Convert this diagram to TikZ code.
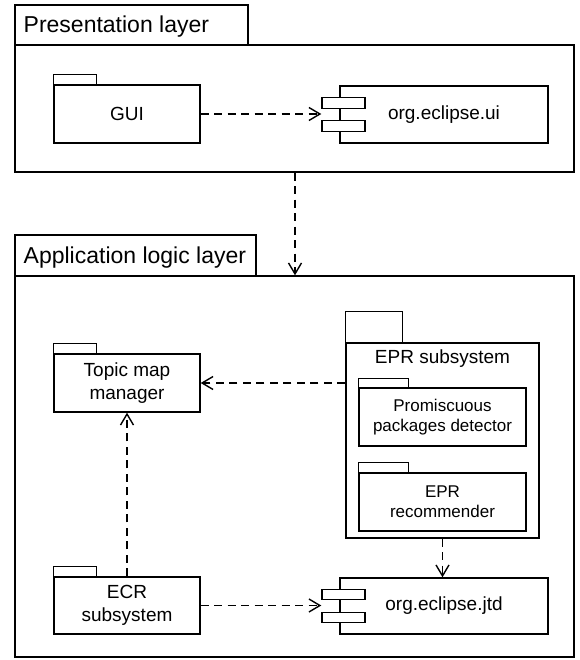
\documentclass[tikz,border=0pt]{standalone}
\usepackage{fontspec}
\setmainfont{Liberation Sans}
\usetikzlibrary{arrows.meta}
\begin{document}
\begin{tikzpicture}[x=1pt,y=-1pt,line width=1.4pt,
  box/.style={draw,rectangle,inner sep=0pt,align=center,font=\fontsize{19}{23}\selectfont},
  innerbox/.style={draw,rectangle,inner sep=0pt,align=center,font=\fontsize{17}{20}\selectfont},
  port/.style={draw,fill=white,rectangle,inner sep=0pt,minimum width=43pt,minimum height=10.5pt},
  title/.style={anchor=base west,inner sep=0pt,font=\fontsize{23}{28}\selectfont},
  dep/.style={dash pattern=on 8pt off 5.5pt,-{Straight Barb[length=11pt,width=13pt]}}]
\useasboundingbox (0,0) rectangle (579,660);

% Presentation layer
\draw (15,5) rectangle (248,45);
\node[title] (ptitle) at (23,33) {Presentation layer};
\node[draw,rectangle,minimum width=559pt,minimum height=127pt,inner sep=0pt] (pres) at (294.5,108.5) {};

% Application logic layer
\draw (15,235) rectangle (256,276);
\node[title] (atitle) at (23,263) {Application logic layer};
\node[draw,rectangle,minimum width=559pt,minimum height=381pt,inner sep=0pt] (app) at (294.5,466.5) {};

% GUI package
\node[box,minimum width=146pt,minimum height=58pt] (gui) at (127,114) {GUI};
\draw (gui.north west) rectangle ++(43,-10);

% org.eclipse.ui component
\node[box,minimum width=208pt,minimum height=57pt] (ui) at (444,114.5) {org.eclipse.ui};
\node[port] (uiA) at (343.5,103) {};
\node[port] (uiB) at (343.5,126) {};

% Topic map manager
\node[box,minimum width=146pt,minimum height=58pt] (topic) at (127,383) {Topic map\\manager};
\draw (topic.north west) rectangle ++(43,-10);

% ECR subsystem
\node[box,minimum width=146pt,minimum height=57pt] (ecr) at (127,605.5) {ECR\\subsystem};
\draw (ecr.north west) rectangle ++(43,-10);

% EPR subsystem
\node[draw,rectangle,inner sep=0pt,minimum width=193pt,minimum height=195pt] (epr) at (442.5,440.5) {};
\draw (epr.north west) rectangle ++(57,-31);
\node[anchor=base,inner sep=0pt,font=\fontsize{19}{23}\selectfont] (eprt) at (442.5,363) {EPR subsystem};
\node[innerbox,minimum width=167pt,minimum height=58pt] (prom) at (442.5,417) {Promiscuous\\packages detector};
\draw (prom.north west) rectangle ++(50,-9);
\node[innerbox,minimum width=167pt,minimum height=58pt] (rec) at (442.5,502) {EPR\\recommender};
\draw (rec.north west) rectangle ++(50,-10);

% org.eclipse.jtd component
\node[box,minimum width=208pt,minimum height=56pt] (jtd) at (444,606) {org.eclipse.jtd};
\node[port] (jtdA) at (343.5,594.5) {};
\node[port] (jtdB) at (343.5,617.5) {};

% connectors
\coordinate (px) at (295,0);
\draw[dep] (gui.east) -- (uiA.west |- gui.east);
\draw[dep] (pres.south -| px) -- (app.north -| px);
\draw[dep] (epr.west |- topic.east) -- (topic.east);
\draw[dep] (ecr.north) -- (topic.south);
\draw[dep] (ecr.east) -- (jtdA.west |- ecr.east);
\draw[dep] (epr.south) -- (jtd.north -| epr.south);
\end{tikzpicture}
\end{document}
